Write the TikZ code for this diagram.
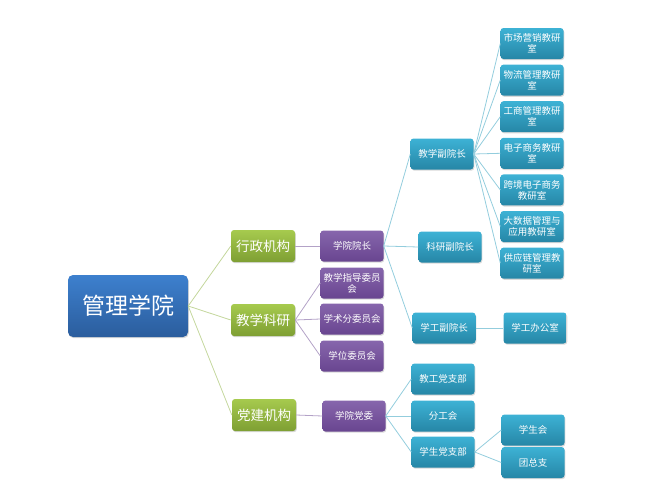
\documentclass[tikz,border=0pt]{standalone}
\usepackage{fontspec}
\newfontfamily\cjk{Noto Sans CJK SC}
\usetikzlibrary{shadows}
\definecolor{rootA}{HTML}{3D80CE}
\definecolor{rootB}{HTML}{2B5D9D}
\definecolor{greenA}{HTML}{A6CA4E}
\definecolor{greenB}{HTML}{7E9F33}
\definecolor{purpleA}{HTML}{8766AC}
\definecolor{purpleB}{HTML}{684590}
\definecolor{tealA}{HTML}{3DB2D5}
\definecolor{tealB}{HTML}{2686A6}
\definecolor{greenline}{HTML}{C3D69B}
\definecolor{purpleline}{HTML}{B3A2C7}
\definecolor{tealline}{HTML}{93CDDD}

\begin{document}
\begin{tikzpicture}[
                x=1pt,y=-1pt,
                box/.style={rounded corners=3pt, inner sep=0pt, align=center, text=white,
                    minimum width=63pt, minimum height=31pt,
                    drop shadow={shadow xshift=0.8pt, shadow yshift=-1.2pt, opacity=0.3}},
                rootbox/.style={box, minimum width=120pt, minimum height=62pt, rounded corners=5pt,
                    top color=rootA, bottom color=rootB, font=\cjk\fontsize{23}{26}\selectfont},
                branchbox/.style={box, minimum width=64pt, minimum height=32pt,
                    top color=greenA, bottom color=greenB, font=\cjk\fontsize{13.5}{15}\selectfont},
                unitbox/.style={box, top color=purpleA, bottom color=purpleB, font=\cjk\fontsize{9.5}{11}\selectfont},
                leafbox/.style={box, top color=tealA, bottom color=tealB, font=\cjk\fontsize{9.5}{11}\selectfont},
                link/.style={line width=0.8pt}
            ]
                \useasboundingbox (0,0) rectangle (650,498);
                % root and branches
                \node[rootbox] (root) at (128,306) {管理学院};
                \node[branchbox] (admin) at (263,246) {行政机构};
                \node[branchbox] (teach) at (263,320) {教学科研};
                \node[branchbox] (party) at (264,415) {党建机构};
                \foreach \b in {admin,teach,party}
                    \draw[link, greenline] (root.east) -- (\b.west);
                % purple units
                \node[unitbox] (dean) at (352,246) {学院院长};
                \node[unitbox] (guide) at (352,283) {教学指导委员\\会};
                \node[unitbox] (acad) at (352,319) {学术分委员会};
                \node[unitbox] (degree) at (352,356) {学位委员会};
                \node[unitbox] (comm) at (354,416) {学院党委};
                \draw[link, purpleline] (admin.east) -- (dean.west);
                \draw[link, purpleline] (party.east) -- (comm.west);
                \foreach \u in {guide,acad,degree}
                    \draw[link, purpleline] (teach.east) -- (\u.west);
                % vice deans
                \node[leafbox] (vteach) at (442,154) {教学副院长};
                \node[leafbox] (vres) at (450,247) {科研副院长};
                \node[leafbox] (vstu) at (444,328) {学工副院长};
                \node[leafbox] (office) at (535,328) {学工办公室};
                \foreach \v in {vteach,vres,vstu}
                    \draw[link, tealline] (dean.east) -- (\v.west);
                \draw[link, tealline] (vstu.east) -- (office.west);
                % teaching offices
                \foreach \txt [count=\i] in {{市场营销教研\\室},{物流管理教研\\室},{工商管理教研\\室},
                        {电子商务教研\\室},{跨境电子商务\\教研室},{大数据管理与\\应用教研室},{供应链管理教\\研室}} {
                    \node[leafbox] (room\i) at (532,43.5+36.6*\i-36.6) {\txt};
                    \draw[link, tealline] (vteach.east) -- (room\i.west);
                }
                % party branches
                \node[leafbox] (staff) at (443,379) {教工党支部};
                \node[leafbox] (union) at (443,416) {分工会};
                \node[leafbox] (spart) at (443,452) {学生党支部};
                \node[leafbox] (council) at (533,430) {学生会};
                \node[leafbox] (league) at (533,462.5) {团总支};
                \foreach \p in {staff,union,spart}
                    \draw[link, tealline] (comm.east) -- (\p.west);
                \foreach \s in {council,league}
                    \draw[link, tealline] (spart.east) -- (\s.west);
            \end{tikzpicture}
\end{document}
